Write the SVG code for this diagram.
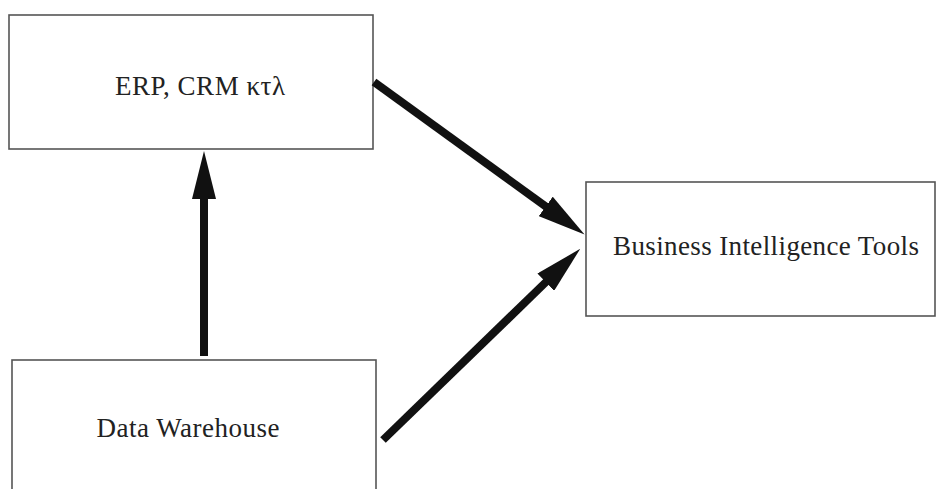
<svg xmlns="http://www.w3.org/2000/svg" width="937" height="489" viewBox="0 0 937 489">
<style>
.box{fill:#fff;stroke:#555;stroke-width:1.6}
.lbl{font-family:"Liberation Serif","DejaVu Serif",serif;font-size:27px;fill:#222;text-anchor:middle}
.conn{stroke:#111;stroke-width:8;fill:none}
</style>
<defs>
<marker id="ah" markerUnits="userSpaceOnUse" viewBox="0 0 48 24" markerWidth="48" markerHeight="24" refX="1" refY="12" orient="auto">
<path d="M0,0 L48,12 L0,24 z" fill="#111"/>
</marker>
</defs>
<rect width="937" height="489" fill="#fff"/>
<g id="erp">
<rect class="box" x="9" y="15" width="364" height="134"/>
<text class="lbl" x="200" y="95" textLength="170">ERP, CRM κτλ</text>
</g>
<g id="bi">
<rect class="box" x="586" y="182" width="349" height="134"/>
<text class="lbl" x="766" y="255" textLength="306">Business Intelligence Tools</text>
</g>
<g id="dw">
<rect class="box" x="12" y="360" width="364" height="140"/>
<text class="lbl" x="188" y="437" textLength="183">Data Warehouse</text>
</g>
<g id="connectors">
<line class="conn" x1="204" y1="356" x2="204" y2="198" marker-end="url(#ah)"/>
<line class="conn" x1="374" y1="82" x2="546.5" y2="207" marker-end="url(#ah)"/>
<line class="conn" x1="383" y1="440" x2="546.5" y2="281.5" marker-end="url(#ah)"/>
</g>
</svg>
